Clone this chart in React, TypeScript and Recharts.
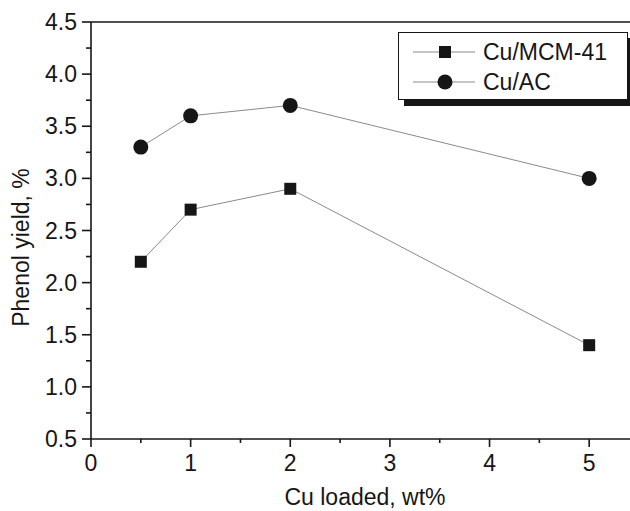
import React from "react";
import { LineChart, Line, XAxis, YAxis, ReferenceLine, Legend } from "recharts";

const cuLoading = [0.5, 1, 2, 5];
const mcmYield = [2.2, 2.7, 2.9, 1.4];
const acYield = [3.3, 3.6, 3.7, 3.0];

const xTicks = [0, 0.5, 1, 1.5, 2, 2.5, 3, 3.5, 4, 4.5, 5, 5.5];
const yTicks = [0.5, 0.75, 1, 1.25, 1.5, 1.75, 2, 2.25, 2.5, 2.75, 3, 3.25, 3.5, 3.75, 4, 4.25, 4.5];

const seriesNames = ["Cu/MCM-41", "Cu/AC"];

const data = cuLoading.map((x, i) => ({ x, mcm: mcmYield[i], ac: acYield[i] }));

const FONT = "'Liberation Sans', Arial, Helvetica, sans-serif";
const INK = "#161616";
const LINE = "#8a8a8a";

const X_TICK = 8;
const X_GAP = 9;
const Y_TICK = 9;
const Y_GAP = 5;

const isWhole = (v: number) => Math.abs(v - Math.round(v)) < 1e-6;
const isHalf = (v: number) => isWhole(v * 2);

const XTick = ({ x, y, payload }: any) => {
  const v = payload.value;
  const major = isWhole(v);
  const axisY = y - X_TICK - X_GAP;
  return (
    <g>
      <line x1={x} x2={x} y1={axisY} y2={axisY + (major ? X_TICK : 4)} stroke={INK} strokeWidth={1.6} />
      {major && v <= 5 && (
        <text x={x} y={y} dy={15} textAnchor="middle" fontSize={23} fill={INK} fontFamily={FONT}>
          {v}
        </text>
      )}
    </g>
  );
};

const YTick = ({ x, y, payload }: any) => {
  const v = payload.value;
  const major = isHalf(v);
  const axisX = x + Y_TICK + Y_GAP;
  return (
    <g>
      <line x1={axisX - (major ? Y_TICK : 5)} x2={axisX} y1={y} y2={y} stroke={INK} strokeWidth={1.6} />
      {major && (
        <text x={x} y={y} dy={8} textAnchor="end" fontSize={23} fill={INK} fontFamily={FONT}>
          {v.toFixed(1)}
        </text>
      )}
    </g>
  );
};

const Square = ({ cx, cy }: any) =>
  cx == null ? null : <rect x={cx - 6} y={cy - 6} width={12} height={12} fill={INK} />;

const Dot = ({ cx, cy }: any) =>
  cx == null ? null : <circle cx={cx} cy={cy} r={7.5} fill={INK} />;

const XTitle = ({ viewBox }: any) => (
  <text
    x={viewBox.x + viewBox.width / 2}
    y={viewBox.y + 66}
    textAnchor="middle"
    fontSize={23}
    fill={INK}
    fontFamily={FONT}
  >
    Cu loaded, wt%
  </text>
);

const YTitle = ({ viewBox }: any) => {
  const cx = viewBox.x + 29;
  const cy = viewBox.y + viewBox.height / 2 + 17;
  return (
    <text
      x={cx}
      y={cy}
      transform={`rotate(-90, ${cx}, ${cy})`}
      textAnchor="middle"
      fontSize={23}
      fill={INK}
      fontFamily={FONT}
    >
      Phenol yield, %
    </text>
  );
};

const LegendBox = () => (
  <div
    style={{
      width: 230,
      height: 68,
      boxSizing: "border-box",
      border: `1.5px solid ${INK}`,
      background: "#fff",
      boxShadow: `6px 6px 0 ${INK}`,
      fontFamily: FONT,
    }}
  >
    {seriesNames.map((name, i) => (
      <div key={name} style={{ display: "flex", alignItems: "center", height: 30, marginTop: i === 0 ? 4 : 0 }}>
        <svg width={84} height={30} style={{ flex: "none" }}>
          <line x1={14} x2={76} y1={15} y2={15} stroke={LINE} strokeWidth={1} />
          {i === 0 ? <rect x={40} y={9} width={12} height={12} fill={INK} /> : <circle cx={46} cy={15} r={7.5} fill={INK} />}
        </svg>
        <span style={{ fontSize: 23, color: INK, lineHeight: "30px" }}>{name}</span>
      </div>
    ))}
  </div>
);

export default function App() {
  return (
    <div style={{ position: "absolute", left: 0, top: 0, width: 630, height: 511, overflow: "hidden", background: "#fff" }}>
      <LineChart width={650} height={511} data={data} margin={{ top: 22, right: 11, bottom: 0, left: 0 }}>
        <XAxis
          dataKey="x"
          type="number"
          domain={[0, 5.5]}
          ticks={xTicks}
          interval={0}
          tickSize={X_TICK}
          tickMargin={X_GAP}
          tickLine={false}
          tick={<XTick />}
          height={72}
          stroke={INK}
          strokeWidth={1.6}
          label={<XTitle />}
        />
        <YAxis
          type="number"
          domain={[0.5, 4.5]}
          ticks={yTicks}
          interval={0}
          tickSize={Y_TICK}
          tickMargin={Y_GAP}
          tickLine={false}
          tick={<YTick />}
          width={91}
          stroke={INK}
          strokeWidth={1.6}
          label={<YTitle />}
        />
        <ReferenceLine y={4.5} stroke={INK} strokeWidth={1.6} />
        <Legend
          layout="vertical"
          align="center"
          verticalAlign="middle"
          content={<LegendBox />}
          wrapperStyle={{ left: 398, top: 32, width: 240 }}
        />
        <Line
          dataKey="mcm"
          name={seriesNames[0]}
          type="linear"
          stroke={LINE}
          strokeWidth={1}
          dot={<Square />}
          activeDot={false}
          isAnimationActive={false}
        />
        <Line
          dataKey="ac"
          name={seriesNames[1]}
          type="linear"
          stroke={LINE}
          strokeWidth={1}
          dot={<Dot />}
          activeDot={false}
          isAnimationActive={false}
        />
      </LineChart>
    </div>
  );
}
